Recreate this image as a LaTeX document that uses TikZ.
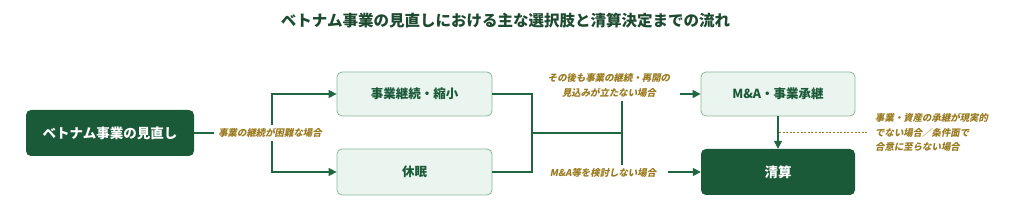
\documentclass[tikz,border=0pt]{standalone}
\usepackage{fontspec}
\setmainfont{Noto Sans CJK JP}
\newfontfamily\lblfont{Noto Sans CJK JP}[FakeSlant=0.2]
\usetikzlibrary{arrows.meta,calc}
\definecolor{dkgreen}{HTML}{1B5A38}
\definecolor{lngreen}{HTML}{1F6740}
\definecolor{ltfill}{HTML}{E9F5EE}
\definecolor{ltborder}{HTML}{8DB59C}
\definecolor{gold}{HTML}{9A7A1E}
\definecolor{titlec}{HTML}{1D4A30}
\tikzset{
  darkbox/.style={draw=none, fill=dkgreen, rounded corners=5pt, text=white, font=\fontsize{13.5}{16}\selectfont\bfseries, align=center},
  lightbox/.style={draw=ltborder, line width=0.8pt, fill=ltfill, rounded corners=5pt, text=dkgreen, font=\fontsize{12.5}{15}\selectfont\bfseries, align=center},
  conn/.style={draw=lngreen, line width=1.4pt},
  arr/.style={conn, -{Triangle[length=8pt,width=8pt]}},
  lbl/.style={fill=white, text=gold, font=\lblfont\fontsize{9.4}{15}\selectfont\bfseries, align=center},
  dotline/.style={draw=gold, line width=0.6pt, dash pattern=on 2pt off 1.6pt},
}
\begin{document}
\begin{tikzpicture}[x=1pt,y=-1pt]
\useasboundingbox (0,0) rectangle (1011,221);
\node[text=titlec, font=\fontsize{15.5}{18}\selectfont\bfseries] (title) at (505.5,21) {ベトナム事業の見直しにおける主な選択肢と清算決定までの流れ};
\node[darkbox, minimum width=168pt, minimum height=46pt] (src) at (110,133) {ベトナム事業の見直し};
\node[lightbox, minimum width=155pt, minimum height=44pt] (cont) at (414.5,94) {事業継続・縮小};
\node[lightbox, minimum width=155pt, minimum height=46pt] (dorm) at (414.5,172) {休眠};
\node[lightbox, minimum width=154pt, minimum height=44pt] (ma) at (778,94) {M\&A・事業承継};
\node[darkbox, minimum width=154pt, minimum height=46pt] (liq) at (778,172) {清算};
\coordinate (splitA) at (272,133);
\coordinate (mergeA) at (532,133);
\coordinate (splitB) at (622,133);
\draw[conn] (src.east) -- (splitA);
\draw[arr] (splitA) |- (cont.west);
\draw[arr] (splitA) |- (dorm.west);
\draw[conn] (cont.east) -| (mergeA);
\draw[conn] (dorm.east) -| (mergeA);
\draw[conn] (mergeA) -- (splitB);
\draw[arr] (splitB) |- (ma.west);
\draw[arr] (splitB) |- (liq.west);
\draw[arr] (ma.south) -- (liq.north);
\node[lbl, inner xsep=4pt, inner ysep=3pt] (lblA) at (270,133) {事業の継続が困難な場合};
\node[lbl, inner xsep=10pt, inner ysep=3pt] (lblB) at (609,85.5) {その後も事業の継続・再開の\\見込みが立たない場合};
\node[lbl, inner xsep=12pt, inner ysep=3pt] (lblC) at (603,173) {M\&A等を検討しない場合};
\node[lbl, align=left, anchor=west, inner sep=0pt, font=\lblfont\fontsize{9.4}{14.5}\selectfont\bfseries] (note) at (875,132.5) {事業・資産の承継が現実的\\でない場合／条件面で\\合意に至らない場合};
\coordinate (dashA) at (ma.south |- note.west);
\draw[dotline] ([xshift=1pt]dashA) -- ([xshift=-8pt]note.west);
\end{tikzpicture}
\end{document}
